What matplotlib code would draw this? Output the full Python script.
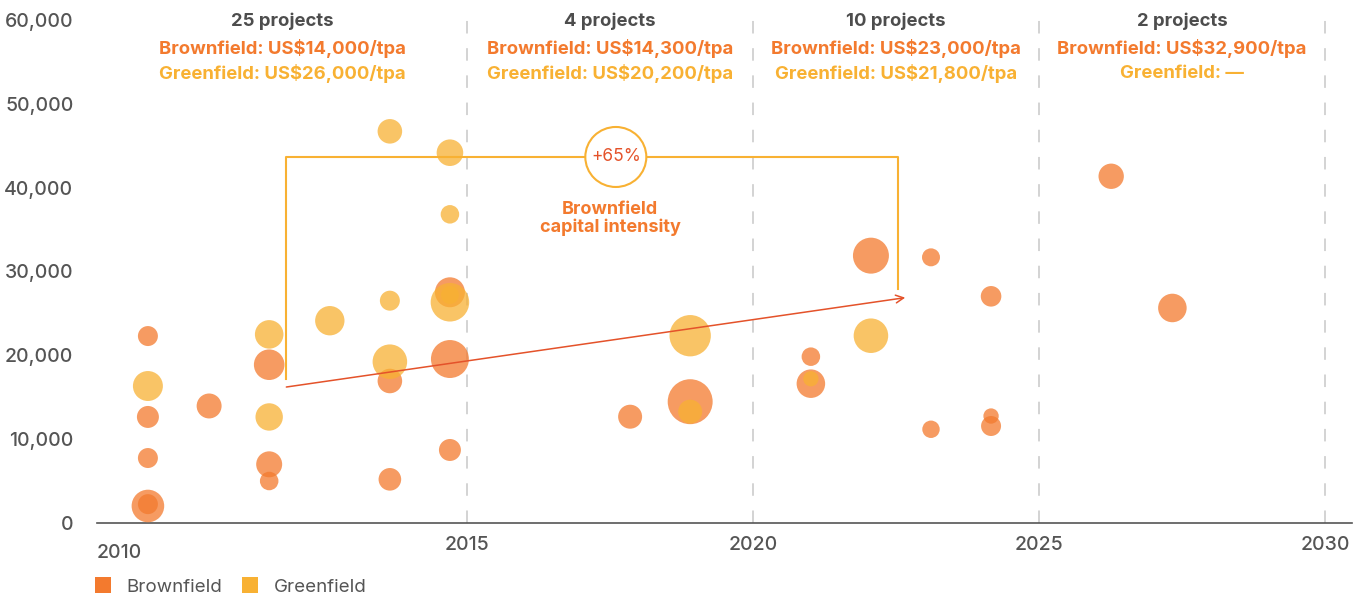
import matplotlib
matplotlib.use("Agg")
import matplotlib.pyplot as plt
from matplotlib.lines import Line2D
from matplotlib.patches import Ellipse
import numpy as np

plt.rcParams['font.family'] = ['Inter', 'DejaVu Sans']

# brownfield projects: year, capital intensity (US$/tpa), relative capacity
brown_year = [2009.42, 2009.42, 2009.42, 2009.42, 2009.42, 2010.49,
              2011.54, 2011.54, 2011.54, 2013.65, 2013.65,
              2014.70, 2014.70, 2014.70, 2017.85, 2018.90,
              2021.01, 2021.01, 2022.06, 2023.11, 2024.16, 2023.11, 2024.16, 2024.16,
              2026.26, 2027.33]
brown_val = [22300, 12650, 7750, 2030, 2250, 13960,
             18880, 7000, 5010, 16940, 5210,
             27520, 19560, 8710, 12680, 14470,
             19840, 16620, 31890, 31690, 27040, 11180, 12760, 11570,
             41360, 25650]
brown_cap = [1.00, 1.21, 1.00, 2.66, 1.00, 1.56,
             2.34, 1.69, 0.86, 1.51, 1.28,
             2.25, 3.61, 1.21, 1.44, 5.06,
             0.86, 2.04, 3.24, 0.81, 1.06, 0.76, 0.59, 1.00,
             1.61, 2.04]

# greenfield projects
green_year = [2009.42, 2011.54, 2011.54, 2012.60, 2013.65, 2013.65, 2013.65,
              2014.70, 2014.70, 2014.70, 2014.70, 2018.90, 2018.90, 2021.01, 2022.06]
green_val = [16340, 22500, 12650, 24130, 46720, 26520, 19240,
             44170, 36820, 26330, 27200, 22340, 13280, 17210, 22340]
green_cap = [2.25, 2.04, 1.88, 2.16, 1.51, 1.00, 2.99,
             1.77, 0.86, 3.72, 0.81, 4.28, 1.44, 0.59, 2.99]

# period summaries
periods = [(2008.53, 2015), (2015, 2020), (2020, 2025), (2025, 2030)]
n_projects = ["25 projects", "4 projects", "10 projects", "2 projects"]
brown_avg = ["Brownfield: US$14,000/tpa", "Brownfield: US$14,300/tpa",
             "Brownfield: US$23,000/tpa", "Brownfield: US$32,900/tpa"]
green_avg = ["Greenfield: US$26,000/tpa", "Greenfield: US$20,200/tpa",
             "Greenfield: US$21,800/tpa", "Greenfield: \u2014"]

# brownfield capital intensity trend (+65%)
trend_x = [2011.84, 2022.66]
trend_y = [16220, 26880]

BROWN = "#F37A2E"
GREEN = "#F8B133"
RED = "#E4522A"
GREY = "#4D4D4D"
TXT = "#555555"

W, H = 1363, 595
fig = plt.figure(figsize=(W / 100, H / 100), dpi=100)
ax = fig.add_axes([97 / W, 72 / H, (1352 - 97) / W, (523 - 20) / H])
ax.set_xlim(2008.53, 2030.47)
ax.set_ylim(0, 60000)

# dashed period separators
for x in [2015, 2020, 2025, 2030]:
    ax.plot([x, x], [0, 61300], color="#C8C8C8", lw=1.1,
            linestyle=(0, (8.2, 9.6)), clip_on=False, zorder=1)

k = 207
ax.scatter(brown_year, brown_val, s=np.array(brown_cap) * k, color=BROWN,
           alpha=0.75, linewidths=0, zorder=3)
ax.scatter(green_year, green_val, s=np.array(green_cap) * k, color=GREEN,
           alpha=0.75, linewidths=0, zorder=4)

# bracket and +65% annotation
top = 43660
ax.plot([trend_x[0], trend_x[0], 2022.53, 2022.53],
        [17180, top, top, 27910], color=GREEN, lw=1.5, zorder=5)
ax.annotate("", xy=(trend_x[1], trend_y[1]), xytext=(trend_x[0], trend_y[0]),
            arrowprops=dict(arrowstyle="->", color=RED, lw=1.1,
                            mutation_scale=14, shrinkA=0, shrinkB=0), zorder=6)
cx = 2017.6
circ = Ellipse((cx, top), width=61 / 57.2, height=60 / 83.83 * 10000,
               facecolor="white", edgecolor=GREEN, lw=1.5, zorder=6)
ax.add_patch(circ)
ax.text(cx, top, "+65%", color=RED, fontsize=12.5, ha="center", va="center", zorder=7)
ax.text(2017.5, 36300, "Brownfield\ncapital intensity", color=BROWN, fontsize=13,
        fontweight="bold", ha="center", va="center", linespacing=1.05, zorder=7)

# period headers
for (a, b), n, bt, gt in zip(periods, n_projects, brown_avg, green_avg):
    mid = (a + b) / 2
    ax.text(mid, 59900, n, color=GREY, fontsize=13.3, fontweight="bold",
            ha="center", va="center")
    ax.text(mid, 56560, bt, color=BROWN, fontsize=13.3, fontweight="bold",
            ha="center", va="center")
    ax.text(mid, 53650, gt, color=GREEN, fontsize=13.3, fontweight="bold",
            ha="center", va="center")

# axes styling
for s in ["top", "right", "left"]:
    ax.spines[s].set_visible(False)
ax.spines["bottom"].set_color(TXT)
ax.spines["bottom"].set_linewidth(1.2)
ax.set_yticks(range(0, 60001, 10000))
ax.set_yticklabels([f"{v:,}" for v in range(0, 60001, 10000)])
ax.set_xticks([2015, 2020, 2025, 2030])
ax.set_xticklabels(["2015", "2020", "2025", "2030"])
ax.tick_params(axis="y", length=0, pad=17, labelsize=14, labelcolor=TXT)
ax.tick_params(axis="x", length=0, pad=9, labelsize=14, labelcolor=TXT)
for lab in ax.get_xticklabels() + ax.get_yticklabels():
    lab.set_fontweight("medium")
ax.text(2008.53, -2450, "2010", color=TXT, fontsize=14, fontweight="medium",
        ha="left", va="top")

handles = [Line2D([], [], marker="s", linestyle="none", markersize=12,
                  markerfacecolor=c, markeredgewidth=0) for c in [BROWN, GREEN]]
fig.legend(handles, ["Brownfield", "Greenfield"], loc="center left",
           bbox_to_anchor=(84 / W, 1 - 587 / H), ncol=2, frameon=False,
           fontsize=13.5, labelcolor=TXT, handletextpad=0.75,
           columnspacing=1.0, borderpad=0, handlelength=1.0)

fig.savefig("out.png", dpi=100)
